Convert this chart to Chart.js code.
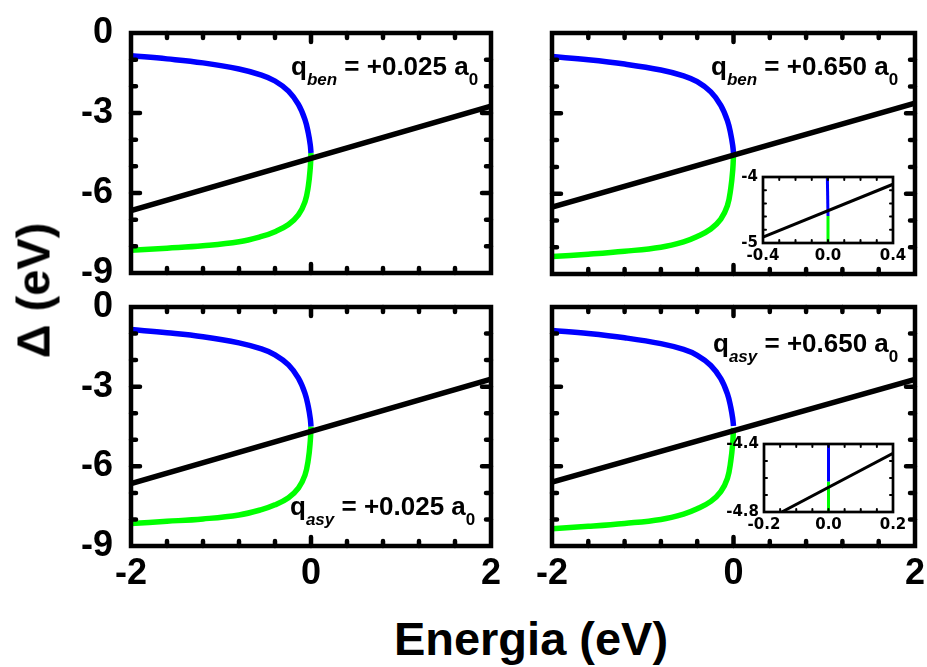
<!DOCTYPE html>
<html>
<head>
<meta charset="utf-8">
<script src="https://cdn.jsdelivr.net/npm/chart.js@4.4.0/dist/chart.umd.min.js"></script>
<style>
  body { margin: 0; background: #fff; }
  #fig { position: relative; width: 927px; height: 667px; overflow: hidden; font-family: "Liberation Sans", Arial, sans-serif; }
  #fig canvas { position: absolute; }
  .note { position: absolute; font-size: 26px; font-weight: bold; line-height: 1; white-space: nowrap; color: #000; }
  .note span { position: relative; top: 10px; font-size: 17px; }
  .note i { font-style: italic; }
  .title { position: absolute; font-size: 47px; font-weight: bold; line-height: 47px; text-align: center; white-space: nowrap; }
</style>
</head>
<body>
<div id="fig">
  <canvas id="tl"></canvas>
  <canvas id="tr"></canvas>
  <canvas id="bl"></canvas>
  <canvas id="br"></canvas>
  <canvas id="trInset"></canvas>
  <canvas id="brInset"></canvas>

  <div class="note" style="left:291px; top:53px;">q<span><i>ben</i></span> = +0.025 a<span>0</span></div>
  <div class="note" style="left:711px; top:53px;">q<span><i>ben</i></span> = +0.650 a<span>0</span></div>
  <div class="note" style="left:290px; top:493px;">q<span><i>asy</i></span> = +0.025 a<span>0</span></div>
  <div class="note" style="left:713px; top:330px;">q<span><i>asy</i></span> = +0.650 a<span>0</span></div>

  <div class="title" style="left:331px; top:615px; width:400px;">Energia (eV)</div>
  <div class="title" style="left:-67px; top:267px; width:200px; transform: rotate(-90deg);">&Delta; (eV)</div>
</div>

<script>
// energy samples of the two branches (eV)
const branchEnergy = [-2, -1.6, -1.2, -0.8, -0.55, -0.4, -0.25, -0.14, -0.067, -0.03, -0.008, 0];
// upper (blue) and lower (green) branch, left column panels
const blueLeft = [-0.85, -0.97, -1.12, -1.35, -1.58, -1.8, -2.18, -2.68, -3.25, -3.75, -4.2, -4.5];
const greenLeft = [-8.15, -8.07, -7.98, -7.83, -7.63, -7.45, -7.18, -6.82, -6.33, -5.75, -5.05, -4.5];
// same branches, right column panels
const blueRight = [-0.88, -1.0, -1.16, -1.38, -1.6, -1.82, -2.2, -2.7, -3.27, -3.78, -4.22, -4.48];
const greenRight = [-8.35, -8.26, -8.15, -8.0, -7.8, -7.6, -7.32, -6.95, -6.45, -5.8, -5.1, -4.55];

// straight line E - eps, end points
const lineEnergy = [-2, 2];
const lineBenSmall = [-6.66, -2.74];
const lineBenLarge = [-6.5, -2.62];
const lineAsySmall = [-6.65, -2.72];
const lineAsyLarge = [-6.59, -2.73];

// zoomed views near E = 0
const insetBenLineE = [-0.4, 0.4];
const insetBenLine = [-4.91, -4.11];
const insetBenBlueE = [-0.004, 0];
const insetBenBlue = [-4.0, -4.59];
const insetBenGreenE = [0, 0];
const insetBenGreen = [-4.59, -5.0];

const insetAsyLineE = [-0.145, 0.2];
const insetAsyLine = [-4.8, -4.455];
const insetAsyBlueE = [0, 0];
const insetAsyBlue = [-4.4, -4.62];
const insetAsyGreenE = [0, 0];
const insetAsyGreen = [-4.62, -4.8];

// ticks
const xTicks = [-2, 0, 2];
const yTicks = [-9, -6, -3, 0];
const xMinor = [-1.6, -1.2, -0.8, -0.4, 0.4, 0.8, 1.2, 1.6];
const yMinor = [-8, -7, -5, -4, -2, -1];
const benInsetX = [-0.4, 0, 0.4];
const benInsetY = [-5, -4];
const benInsetXMinor = [-0.3, -0.2, -0.1, 0.1, 0.2, 0.3];
const benInsetYMinor = [-4.8, -4.6, -4.4, -4.2];
const asyInsetX = [-0.2, 0, 0.2];
const asyInsetY = [-4.8, -4.4];
const asyInsetXMinor = [-0.15, -0.1, -0.05, 0.05, 0.1, 0.15];
const asyInsetYMinor = [-4.7, -4.6, -4.5];

const FONT = '"Liberation Sans", Arial, sans-serif';
const toPoints = (xs, ys) => xs.map((x, i) => ({ x: x, y: ys[i] }));

// frame + inward ticks on all four sides
const framePlugin = {
  id: 'frame',
  beforeDatasetsDraw(chart, args, o) {
    const a = chart.chartArea;
    const ctx = chart.ctx;
    ctx.save();
    ctx.fillStyle = '#fff';
    ctx.fillRect(a.left, a.top, a.width, a.height);
    ctx.restore();
  },
  afterDatasetsDraw(chart, args, o) {
    const { ctx, chartArea: a } = chart;
    const sx = chart.scales.x, sy = chart.scales.y;
    ctx.save();
    ctx.strokeStyle = '#000';
    ctx.lineCap = 'round';
    ctx.lineWidth = o.tickWidth;
    const xMark = (v, len) => {
      const px = sx.getPixelForValue(v);
      ctx.beginPath();
      ctx.moveTo(px, a.top); ctx.lineTo(px, a.top + len);
      ctx.moveTo(px, a.bottom); ctx.lineTo(px, a.bottom - len);
      ctx.stroke();
    };
    const yMark = (v, len) => {
      const py = sy.getPixelForValue(v);
      ctx.beginPath();
      ctx.moveTo(a.left, py); ctx.lineTo(a.left + len, py);
      ctx.moveTo(a.right, py); ctx.lineTo(a.right - len, py);
      ctx.stroke();
    };
    o.xMinor.forEach(v => xMark(v, o.minorLen));
    o.yMinor.forEach(v => yMark(v, o.minorLen));
    o.xMajor.forEach(v => xMark(v, o.majorLen));
    o.yMajor.forEach(v => yMark(v, o.majorLen));
    ctx.lineCap = 'butt';
    ctx.lineWidth = o.frameWidth;
    ctx.strokeRect(a.left, a.top, a.width, a.height);
    ctx.restore();
  }
};

function placeCanvas(canvas, box, pad) {
  const w = box.right - box.left + pad.left + pad.right;
  const h = box.bottom - box.top + pad.top + pad.bottom;
  canvas.width = w;
  canvas.height = h;
  canvas.style.width = w + 'px';
  canvas.style.height = h + 'px';
  canvas.style.left = (box.left - pad.left) + 'px';
  canvas.style.top = (box.top - pad.top) + 'px';
}

function makeChart(id, box, pad, sets, axes, frame) {
  const canvas = document.getElementById(id);
  placeCanvas(canvas, box, pad);
  return new Chart(canvas, {
    type: 'line',
    data: { datasets: sets },
    options: {
      responsive: false,
      animation: false,
      events: [],
      layout: { padding: { top: pad.top, right: pad.right, left: 0, bottom: 0 } },
      elements: { point: { radius: 0 } },
      plugins: { legend: { display: false }, tooltip: { enabled: false }, frame: frame },
      scales: {
        x: {
          type: 'linear', min: axes.xMin, max: axes.xMax,
          grid: { display: false, drawTicks: false }, border: { display: false },
          afterBuildTicks: s => { s.ticks = axes.xTicks.map(v => ({ value: v })); },
          afterFit: s => { s.height = pad.bottom; },
          ticks: {
            display: axes.showX, color: '#000', padding: axes.xPad, maxRotation: 0,
            font: axes.font, callback: axes.xFmt
          }
        },
        y: {
          type: 'linear', min: axes.yMin, max: axes.yMax,
          grid: { display: false, drawTicks: false }, border: { display: false },
          afterBuildTicks: s => { s.ticks = axes.yTicks.map(v => ({ value: v })); },
          afterFit: s => { s.width = pad.left; },
          ticks: {
            display: axes.showY, color: '#000', padding: axes.yPad,
            font: axes.font, callback: axes.yFmt
          }
        }
      }
    },
    plugins: [framePlugin]
  });
}

function mainPanel(id, box, blue, green, line, showX, showY) {
  const sets = [
    { data: toPoints(lineEnergy, line), borderColor: '#000', borderWidth: 5.5, tension: 0 },
    { data: toPoints(branchEnergy, blue), borderColor: '#0000ff', borderWidth: 5.5, tension: 0.4 },
    { data: toPoints(branchEnergy, green), borderColor: '#00ff00', borderWidth: 5.5, tension: 0.4 }
  ];
  const axes = {
    xMin: -2, xMax: 2, yMin: -9, yMax: 0,
    xTicks: xTicks, yTicks: yTicks, showX: showX, showY: showY,
    xPad: 6, yPad: 18,
    font: { family: FONT, size: 36, weight: 'bold' },
    xFmt: v => String(v), yFmt: v => String(v)
  };
  const frame = {
    xMinor: xMinor, yMinor: yMinor, xMajor: [0], yMajor: [-6, -3],
    minorLen: 5, majorLen: 9, tickWidth: 4.5, frameWidth: 4.5
  };
  makeChart(id, box, { left: 90, right: 34, top: 44, bottom: 64 }, sets, axes, frame);
}

function insetPanel(id, box, lineE, line, blueE, blue, greenE, green, xs, ys, xm, ym, yFmt) {
  const sets = [
    { data: toPoints(lineE, line), borderColor: '#000', borderWidth: 3, tension: 0 },
    { data: toPoints(blueE, blue), borderColor: '#0000ff', borderWidth: 3, tension: 0 },
    { data: toPoints(greenE, green), borderColor: '#00ff00', borderWidth: 3, tension: 0 }
  ];
  const axes = {
    xMin: xs[0], xMax: xs[xs.length - 1], yMin: ys[0], yMax: ys[ys.length - 1],
    xTicks: xs, yTicks: ys, showX: true, showY: true,
    xPad: 4, yPad: 5,
    font: { family: '"DejaVu Sans", sans-serif', size: 15, weight: 'bold' },
    xFmt: v => v.toFixed(1), yFmt: yFmt
  };
  const frame = {
    xMinor: xm, yMinor: ym, xMajor: [xs[1]], yMajor: [],
    minorLen: 3, majorLen: 3, tickWidth: 2, frameWidth: 2.7
  };
  makeChart(id, box, { left: 44, right: 24, top: 14, bottom: 28 }, sets, axes, frame);
}

mainPanel('tl', { left: 131, right: 491, top: 33, bottom: 273 }, blueLeft, greenLeft, lineBenSmall, false, true);
mainPanel('tr', { left: 552, right: 915, top: 33, bottom: 274 }, blueRight, greenRight, lineBenLarge, false, false);
mainPanel('bl', { left: 131, right: 491, top: 307, bottom: 546 }, blueLeft, greenLeft, lineAsySmall, true, true);
mainPanel('br', { left: 552, right: 915, top: 307, bottom: 546 }, blueRight, greenRight, lineAsyLarge, true, false);

insetPanel('trInset', { left: 763, right: 893, top: 177, bottom: 243 },
  insetBenLineE, insetBenLine, insetBenBlueE, insetBenBlue, insetBenGreenE, insetBenGreen,
  benInsetX, benInsetY, benInsetXMinor, benInsetYMinor, v => String(v));
insetPanel('brInset', { left: 764, right: 893, top: 444, bottom: 512 },
  insetAsyLineE, insetAsyLine, insetAsyBlueE, insetAsyBlue, insetAsyGreenE, insetAsyGreen,
  asyInsetX, asyInsetY, asyInsetXMinor, asyInsetYMinor, v => v.toFixed(1));
</script>
</body>
</html>
